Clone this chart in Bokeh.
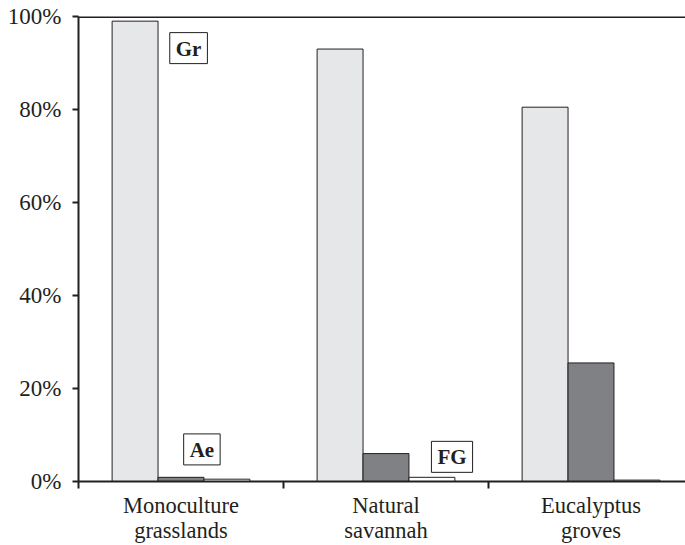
from bokeh.plotting import figure
from bokeh.models import Range1d, FixedTicker, Span, ColumnDataSource
from bokeh.transform import dodge
from bokeh.core.properties import value
from bokeh.embed import file_html
from bokeh.resources import INLINE

# ---- data ----
categories = ["Monoculture\ngrasslands", "Natural\nsavannah", "Eucalyptus\ngroves"]
gr = [0.99, 0.93, 0.805]
ae = [0.009, 0.06, 0.255]
fg = [0.005, 0.009, 0.003]
series_labels = ["Gr", "Ae", "FG"]
label_x = [0.537, 0.602, 1.822]
label_y = [0.932, 0.069, 0.053]
y_ticks = [0, 0.2, 0.4, 0.6, 0.8, 1.0]
y_tick_labels = ["0%", "20%", "40%", "60%", "80%", "100%"]

FONT = "Liberation Serif"
INK = "#231f20"

centers = [i + 0.5 for i in range(len(categories))]
src = ColumnDataSource(dict(x=centers, gr=gr, ae=ae, fg=fg))

p = figure(width=685, height=545, x_range=Range1d(0, 607 / 205), y_range=Range1d(0, 1),
           output_backend="svg", toolbar_location=None,
           min_border_left=78, min_border_right=0, min_border_top=16, min_border_bottom=60)
p.outline_line_color = None
p.xgrid.visible = False
p.ygrid.visible = False
p.background_fill_color = "white"

bw = 0.224
p.vbar(x=dodge("x", -bw, range=p.x_range), top="gr", width=bw, source=src,
       fill_color="#e6e7e8", line_color=INK, line_width=1)
p.vbar(x=dodge("x", 0, range=p.x_range), top="ae", width=bw, source=src,
       fill_color="#808184", line_color=INK, line_width=1)
p.vbar(x=dodge("x", bw, range=p.x_range), top="fg", width=bw, source=src,
       fill_color="#ffffff", line_color=INK, line_width=1)

p.text(x=label_x, y=label_y, text=series_labels, text_font=value(FONT),
       text_font_style="bold", text_font_size="21px", text_color=INK,
       text_align="center", text_baseline="middle",
       border_line_color=INK, border_line_width=1, background_fill_color="white",
       padding=dict(left=6, right=6, top=4, bottom=3))

p.add_layout(Span(location=1.0, dimension="width", line_color=INK, line_width=3))

# x axis
xa = p.xaxis[0]
xa.ticker = FixedTicker(ticks=centers, minor_ticks=[0, 1, 2])
xa.major_label_overrides = {c: lab for c, lab in zip(centers, categories)}
xa.major_tick_out = 0
xa.major_tick_in = 0
xa.minor_tick_out = 7
xa.minor_tick_in = 0
xa.minor_tick_line_color = INK
xa.minor_tick_line_width = 2
xa.axis_line_color = INK
xa.axis_line_width = 2
xa.major_label_text_font = FONT
xa.major_label_text_font_size = "22.5px"
xa.major_label_text_color = INK
xa.major_label_text_line_height = 1.0
xa.major_label_standoff = 4

# y axis
ya = p.yaxis[0]
ya.ticker = FixedTicker(ticks=y_ticks)
ya.major_label_overrides = {t: lab for t, lab in zip(y_ticks, y_tick_labels)}
ya.major_tick_out = 6
ya.major_tick_in = 0
ya.minor_tick_out = 0
ya.minor_tick_in = 0
ya.major_tick_line_color = INK
ya.major_tick_line_width = 2
ya.axis_line_color = INK
ya.axis_line_width = 2
ya.major_label_text_font = FONT
ya.major_label_text_font_size = "23px"
ya.major_label_text_color = INK
ya.major_label_standoff = 11

open("out.html", "w").write(file_html(p, INLINE))
